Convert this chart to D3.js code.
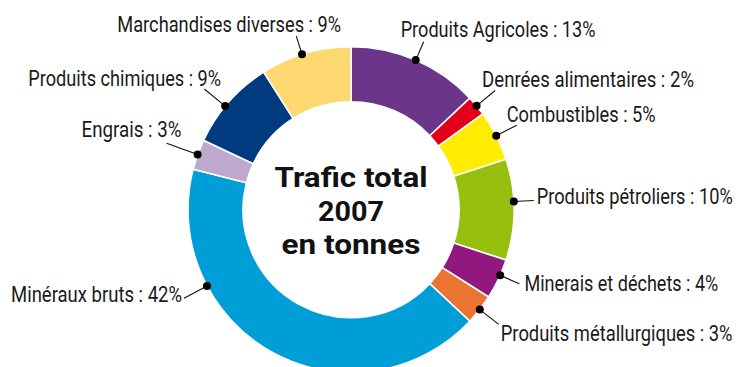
<!DOCTYPE html>
<html>
<head>
<meta charset="utf-8">
<script src="https://cdn.jsdelivr.net/npm/d3@7"></script>
<style>
  html, body { margin: 0; padding: 0; background: #fff; overflow: hidden; }
  svg { display: block; }
  .lbl { font-family: "Roboto", "DejaVu Sans Condensed", sans-serif; font-size: 22px; fill: #1a1a1a; }
  .ctr { font-family: "Roboto", "DejaVu Sans", sans-serif; font-weight: 700; font-size: 28px; fill: #111; }
</style>
</head>
<body>
<svg id="chart" width="738" height="367"></svg>
<script>
// Trafic 2007 par catégorie de marchandises (part du tonnage total, %)
const categories = [
  "Produits Agricoles", "Denrées alimentaires", "Combustibles", "Produits pétroliers",
  "Minerais et déchets", "Produits métallurgiques", "Minéraux bruts", "Engrais",
  "Produits chimiques", "Marchandises diverses"
];
const shares = [13, 2, 5, 10, 4, 3, 42, 3, 9, 9];
const centerTitle = ["Trafic total", "2007", "en tonnes"];

const palette = [
  "#6b3589", "#e2001a", "#ffec00", "#97bf0e", "#92177e",
  "#ec7433", "#009ed6", "#bfa8d0", "#023a80", "#fed871"
];

// Label placement: where the dot sits inside its slice (fraction of the arc),
// leader length, text offset from the leader end, anchor and target width.
const labelLayout = [
  { frac: 0.50, lead: 20, dx: -23, dy: -5, anchor: "start", w: 195 },
  { frac: 0.50, lead: 24, dx: -13, dy: -4, anchor: "start", w: 212 },
  { frac: 0.50, lead: 23, dx: -10, dy: -3, anchor: "start", w: 149 },
  { frac: 0.42, lead: 20, dx: 3,   dy: 3,  anchor: "start", w: 196 },
  { frac: 0.40, lead: 21, dx: 5,   dy: 7,  anchor: "start", w: 194 },
  { frac: 0.50, lead: 24, dx: 2,   dy: 17, anchor: "start", w: 232 },
  { frac: 0.72, lead: 26, dx: -2,  dy: 4,  anchor: "end",   w: 171 },
  { frac: 0.50, lead: 33, dx: 15,  dy: -6, anchor: "end",   w: 100 },
  { frac: 0.44, lead: 27, dx: 17,  dy: -3, anchor: "end",   w: 193 },
  { frac: 0.46, lead: 19, dx: 45,  dy: -4, anchor: "end",   w: 224 }
];

const cx = 351, cy = 209.7;
const outerR = 163, innerR = 108;

const svg = d3.select("#chart");
const g = svg.append("g").attr("transform", `translate(${cx},${cy})`);

const data = categories.map((c, i) => ({ name: c, value: shares[i], i }));

const pie = d3.pie().sort(null).value(d => d.value).startAngle(0).endAngle(2 * Math.PI);
const arcs = pie(data);

const arc = d3.arc().innerRadius(innerR).outerRadius(outerR);

g.selectAll("path.slice")
  .data(arcs)
  .join("path")
  .attr("class", "slice")
  .attr("d", arc)
  .attr("fill", d => palette[d.data.i])
  .attr("stroke", "#fff")
  .attr("stroke-width", 1.6)
  .attr("stroke-linejoin", "miter");

// polar -> cartesian with angle measured clockwise from 12 o'clock
const pt = (a, r) => [Math.sin(a) * r, -Math.cos(a) * r];

// Condense a text horizontally so that it spans the wanted width,
// with its left edge at x and its baseline at y.
function placeCondensed(textSel, left, y, width) {
  textSel.attr("x", 0).attr("y", 0).attr("text-anchor", "start");
  const natural = textSel.node().getComputedTextLength();
  const sx = width / natural;
  textSel.attr("transform", `translate(${left},${y}) scale(${sx.toFixed(4)},1)`);
}

g.selectAll("g.label")
  .data(arcs)
  .join("g")
  .attr("class", "label")
  .each(function (d) {
    const L = labelLayout[d.data.i];
    const a = d.startAngle + L.frac * (d.endAngle - d.startAngle);
    const [x0, y0] = pt(a, outerR);
    const [x1, y1] = pt(a, outerR + L.lead);
    const sel = d3.select(this);
    sel.append("line")
      .attr("x1", x0).attr("y1", y0).attr("x2", x1).attr("y2", y1)
      .attr("stroke", "#111").attr("stroke-width", 1.1);
    sel.append("circle")
      .attr("cx", x0).attr("cy", y0).attr("r", 4)
      .attr("fill", "#000");
    const t = sel.append("text")
      .attr("class", "lbl")
      .text(`${d.data.name} : ${d.data.value}%`);
    const left = L.anchor === "start" ? x1 + L.dx : x1 + L.dx - L.w;
    placeCondensed(t, left, y1 + L.dy, L.w);
  });

// Central caption
const ctrBaselines = [-22.7, 11.3, 44.3];
const ctrWidths = [153, 66, 139];
g.selectAll("text.ctr")
  .data(centerTitle)
  .join("text")
  .attr("class", "ctr")
  .text(d => d)
  .each(function (d, i) {
    placeCondensed(d3.select(this), -ctrWidths[i] / 2, ctrBaselines[i], ctrWidths[i]);
  });
</script>
</body>
</html>
